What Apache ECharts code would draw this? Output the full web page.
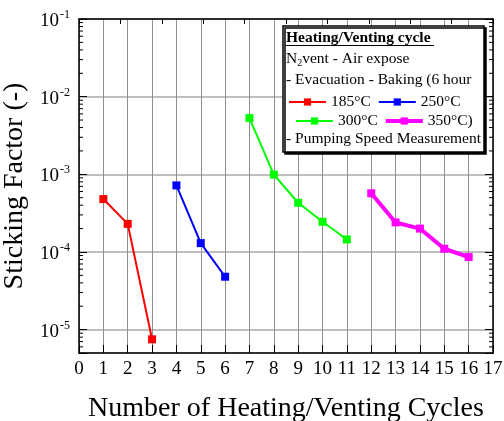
<!DOCTYPE html>
<html>
<head>
<meta charset="utf-8">
<script src="https://cdn.jsdelivr.net/npm/echarts@6/dist/echarts.min.js"></script>
<style>
  html, body { margin: 0; padding: 0; background: #fff; }
  #chart { width: 504px; height: 421px; }
</style>
</head>
<body>
<div id="chart"></div>
<script>
// Sticking factor after each heating/venting cycle, grouped by bake temperature
const seriesNames = ['185°C', '250°C', '300°C', '350°C'];
const cycles185 = [1, 2, 3];
const values185 = [4.8e-4, 2.3e-4, 7.5e-6];
const cycles250 = [4, 5, 6];
const values250 = [7.2e-4, 1.3e-4, 4.8e-5];
const cycles300 = [7, 8, 9, 10, 11];
const values300 = [5.3e-3, 9.9e-4, 4.3e-4, 2.45e-4, 1.45e-4];
const cycles350 = [12, 13, 14, 15, 16];
const values350 = [5.7e-4, 2.4e-4, 2.0e-4, 1.1e-4, 8.6e-5];

// Axis ranges
const xMin = 0, xMax = 17;
const yMin = 5e-6, yMax = 1e-1;

const FONT = '"Liberation Serif", "Times New Roman", serif';

function pairs(xs, ys) { return xs.map((x, i) => [x, ys[i]]); }

// Log-spaced minor tick values (2..9 x 10^k) inside the y range
const minorTickValues = [];
for (let e = -6; e <= -2; e++) {
  for (let m = 2; m <= 9; m++) {
    const v = m * Math.pow(10, e);
    if (v > yMin * 1.0001 && v < yMax) minorTickValues.push(v);
  }
}

const chart = echarts.init(document.getElementById('chart'), null, { renderer: 'canvas' });

function lineSeries(name, data, color, width) {
  return {
    name: name,
    type: 'line',
    data: data,
    symbol: 'rect',
    symbolSize: 8,
    color: color,
    lineStyle: { color: color, width: width },
    itemStyle: { color: color },
    z: 3
  };
}

const legendText = { fontFamily: FONT, fontSize: 15.5, color: '#000', lineHeight: 16 };

const option = {
  animation: false,
  backgroundColor: '#fff',
  grid: { left: 79, right: 11, top: 19, bottom: 68, containLabel: false, outerBoundsMode: 'none' },
  xAxis: [
    {
      type: 'value', min: xMin, max: xMax, interval: 1,
      name: 'Number of Heating/Venting Cycles',
      nameLocation: 'middle', nameGap: 42,
      nameTextStyle: { fontFamily: FONT, fontSize: 28, color: '#000' },
      axisLine: { show: true, lineStyle: { color: '#000', width: 1.5 } },
      axisTick: { show: true, inside: true, length: 8, lineStyle: { color: '#000', width: 1 } },
      axisLabel: { fontFamily: FONT, fontSize: 19, color: '#000', margin: 7 },
      splitLine: { show: true, lineStyle: { color: '#8f8f8f', width: 1 } }
    },
    {
      type: 'value', position: 'top', min: 0, max: 10, interval: 1,
      axisLine: { show: true, onZero: false, lineStyle: { color: '#000', width: 1.5 } },
      axisTick: { show: true, inside: true, length: 5, lineStyle: { color: '#000', width: 1 } },
      axisLabel: { show: false },
      splitLine: { show: false }
    }
  ],
  yAxis: [
    {
      type: 'log', logBase: 10, min: yMin, max: yMax,
      name: 'Sticking Factor (-)',
      nameLocation: 'middle', nameGap: 42,
      nameTextStyle: { fontFamily: FONT, fontSize: 28, color: '#000' },
      axisLine: { show: true, lineStyle: { color: '#000', width: 1.5 } },
      axisTick: { show: true, inside: true, length: 8, lineStyle: { color: '#000', width: 1 } },
      axisLabel: {
        margin: 9,
        formatter: function (v) {
          const lg = Math.log10(v);
          const e = Math.round(lg);
          if (Math.abs(lg - e) > 1e-6) return '';
          return '{b|10}{e|' + e + '}';
        },
        rich: {
          b: { fontFamily: FONT, fontSize: 19, color: '#000', lineHeight: 20, padding: [4, 0, 0, 0] },
          e: { fontFamily: FONT, fontSize: 12, color: '#000', lineHeight: 20, verticalAlign: 'top', padding: [0, 0, 6, 1] }
        }
      },
      splitLine: { show: true, lineStyle: { color: '#a8a8a8', width: 1.5 } }
    },
    {
      type: 'log', logBase: 10, min: yMin, max: yMax, position: 'right',
      axisLine: { show: true, onZero: false, lineStyle: { color: '#000', width: 1.5 } },
      axisTick: { show: true, inside: true, length: 8, lineStyle: { color: '#000', width: 1 } },
      axisLabel: { show: false },
      splitLine: { show: false }
    }
  ],
  legend: [
    {
      data: [
        { name: '185°C', lineStyle: { width: 2 } },
        { name: '250°C', lineStyle: { width: 2 } }
      ],
      left: 288, top: 94, padding: 0, itemGap: 7,
      itemWidth: 37, itemHeight: 9,
      lineStyle: { width: 2 },
      textStyle: legendText,
      z: 6, selectedMode: false
    },
    {
      data: [
        { name: '300°C', lineStyle: { width: 2 } },
        { name: '350°C', lineStyle: { width: 4 } }
      ],
      left: 295, top: 113, padding: 0, itemGap: 6,
      itemWidth: 37, itemHeight: 9,
      lineStyle: { width: 2 },
      formatter: function (name) { return name === '350°C' ? name + ')' : name; },
      textStyle: legendText,
      z: 6, selectedMode: false
    }
  ],
  graphic: [
    {
      type: 'rect', z: 4,
      shape: { x: 283, y: 26, width: 201, height: 126 },
      style: { fill: '#fff', stroke: '#000', lineWidth: 1.5,
               shadowColor: '#000', shadowOffsetX: 2, shadowOffsetY: 2, shadowBlur: 0 }
    },
    {
      type: 'text', z: 6, left: 286, top: 30,
      style: { text: 'Heating/Venting cycle', fontFamily: FONT, fontSize: 15.5, fontWeight: 'bold', fill: '#000' }
    },
    {
      type: 'line', z: 6,
      shape: { x1: 286, y1: 45.5, x2: 434, y2: 45.5 },
      style: { stroke: '#000', lineWidth: 1.2 }
    },
    {
      type: 'text', z: 6, left: 286, top: 51,
      style: {
        text: '{n|N}{s|2}{n|vent - Air expose}',
        rich: {
          n: { fontFamily: FONT, fontSize: 15.5, fill: '#000', lineHeight: 18 },
          s: { fontFamily: FONT, fontSize: 10, fill: '#000', lineHeight: 18, verticalAlign: 'bottom', padding: [0, 0, 0, 0] }
        }
      }
    },
    {
      type: 'text', z: 6, left: 286, top: 72,
      style: { text: '- Evacuation - Baking (6 hour', fontFamily: FONT, fontSize: 15.5, fill: '#000' }
    },
    {
      type: 'text', z: 6, left: 286, top: 131,
      style: { text: '- Pumping Speed Measurement', fontFamily: FONT, fontSize: 15.5, fill: '#000' }
    }
  ],
  series: [
    lineSeries(seriesNames[0], pairs(cycles185, values185), '#ff0000', 2),
    lineSeries(seriesNames[1], pairs(cycles250, values250), '#0000ff', 2),
    lineSeries(seriesNames[2], pairs(cycles300, values300), '#00ff00', 2),
    lineSeries(seriesNames[3], pairs(cycles350, values350), '#ff00ff', 4),
    {
      // log-spaced minor ticks on the left and right frame edges
      type: 'custom',
      silent: true,
      clip: false,
      z: 2,
      data: minorTickValues.map(v => [xMin, v]),
      renderItem: function (params, api) {
        const left = api.coord([xMin, api.value(1)]);
        const right = api.coord([xMax, api.value(1)]);
        const st = { stroke: '#000', lineWidth: 1 };
        return {
          type: 'group',
          children: [
            { type: 'line', shape: { x1: left[0], y1: left[1], x2: left[0] + 4, y2: left[1] }, style: st },
            { type: 'line', shape: { x1: right[0], y1: right[1], x2: right[0] - 4, y2: right[1] }, style: st }
          ]
        };
      }
    }
  ]
};

chart.setOption(option);
</script>
</body>
</html>
